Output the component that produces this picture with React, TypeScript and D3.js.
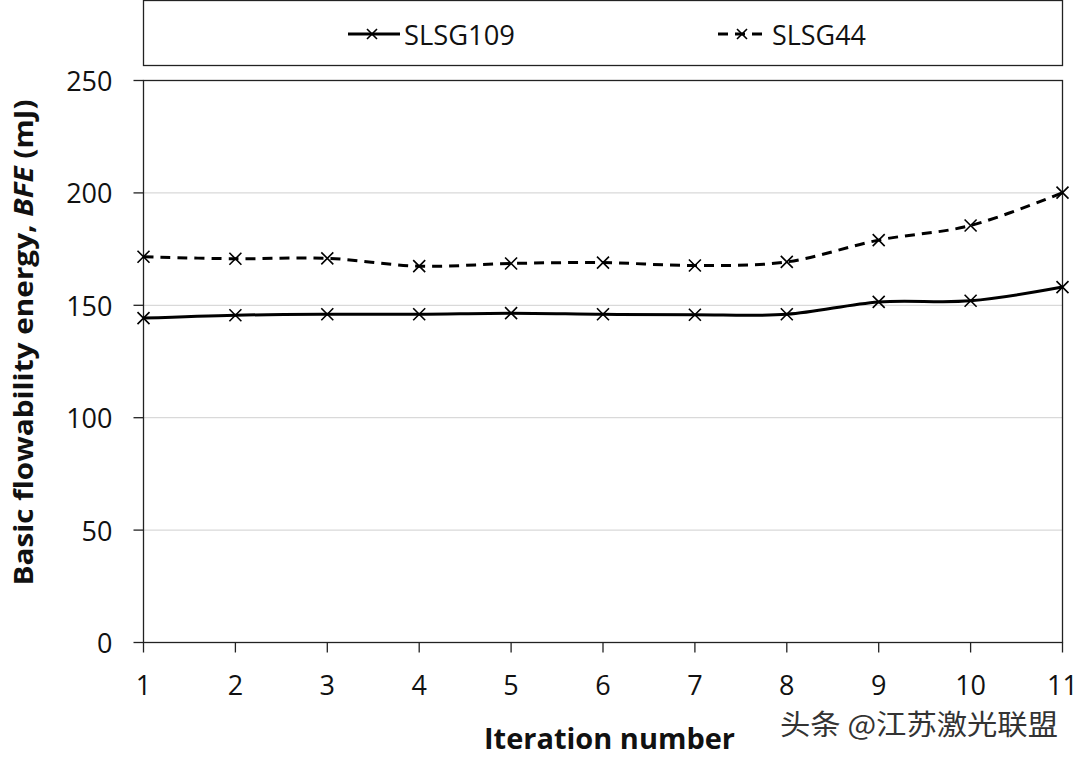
import React from "react";
import * as d3 from "d3";

const iterations = [1, 2, 3, 4, 5, 6, 7, 8, 9, 10, 11];
const slsg109 = [144.3, 145.6, 146.0, 146.0, 146.5, 146.0, 145.8, 146.0, 151.5, 152.0, 158.1];
const slsg44 = [171.6, 170.7, 170.9, 167.4, 168.6, 169.0, 167.7, 169.3, 179.0, 185.5, 200.1];
const yTicks = [0, 50, 100, 150, 200, 250];
const seriesNames = ["SLSG109", "SLSG44"];

const W = 1080;
const H = 759;
const plot = { left: 143.5, right: 1062.5, top: 80.5, bottom: 642.5 };
const FONT = "'Open Sans', 'Noto Sans', sans-serif";

function XMark({ x, y, s = 6 }: { x: number; y: number; s?: number }) {
  return (
    <path
      d={`M${x - s},${y - s}L${x + s},${y + s}M${x - s},${y + s}L${x + s},${y - s}`}
      stroke="#000"
      strokeWidth={1.6}
      fill="none"
    />
  );
}

export default function App() {
  const x = d3.scaleLinear().domain([1, 11]).range([plot.left, plot.right]);
  const y = d3.scaleLinear().domain([0, 250]).range([plot.bottom, plot.top]);
  const line = d3
    .line<number>()
    .x((_, i) => x(iterations[i]))
    .y((d) => y(d))
    .curve(d3.curveCardinal.tension(0));

  const series = [
    { name: seriesNames[0], values: slsg109, dash: undefined as string | undefined },
    { name: seriesNames[1], values: slsg44, dash: "10,7" },
  ];

  return (
    <svg
      width={W}
      height={H}
      style={{ position: "absolute", left: 0, top: 0, background: "#fff" }}
      fontFamily={FONT}
    >
      <rect x={0} y={0} width={W} height={H} fill="#fff" />
      {/* legend box */}
      <rect x={143.5} y={0.5} width={919} height={65} fill="none" stroke="#222" strokeWidth={1.3} />
      <g>
        <line x1={348} x2={400} y1={34} y2={34} stroke="#000" strokeWidth={3} />
        <XMark x={372} y={34} s={5} />
        <text x={404} y={34} dominantBaseline="central" fontSize={27} fill="#111" textLength={111} lengthAdjust="spacingAndGlyphs">
          {seriesNames[0]}
        </text>
        <line x1={718} x2={768} y1={34} y2={34} stroke="#000" strokeWidth={3} strokeDasharray="10,7" />
        <XMark x={742} y={34} s={5} />
        <text x={772} y={34} dominantBaseline="central" fontSize={27} fill="#111" textLength={94} lengthAdjust="spacingAndGlyphs">
          {seriesNames[1]}
        </text>
      </g>

      {/* gridlines */}
      {yTicks
        .filter((t) => t > 0 && t < 250)
        .map((t) => (
          <line key={t} x1={plot.left} x2={plot.right} y1={y(t)} y2={y(t)} stroke="#d9d9d9" strokeWidth={1.3} />
        ))}

      {/* plot frame */}
      <rect
        x={plot.left}
        y={plot.top}
        width={plot.right - plot.left}
        height={plot.bottom - plot.top}
        fill="none"
        stroke="#222"
        strokeWidth={1.3}
      />

      {/* y ticks */}
      {yTicks.map((t) => (
        <g key={t}>
          <line x1={plot.left - 10} x2={plot.left} y1={y(t)} y2={y(t)} stroke="#222" strokeWidth={1.3} />
          <text x={plot.left - 31} y={y(t)} textAnchor="end" dominantBaseline="central" fontSize={27} fill="#111">
            {t}
          </text>
        </g>
      ))}

      {/* x ticks */}
      {iterations.map((t) => (
        <g key={t}>
          <line x1={x(t)} x2={x(t)} y1={plot.bottom} y2={plot.bottom + 10} stroke="#222" strokeWidth={1.3} />
          <text x={x(t)} y={684} textAnchor="middle" dominantBaseline="central" fontSize={27} fill="#111">
            {t}
          </text>
        </g>
      ))}

      {/* series */}
      {series.map((s) => (
        <g key={s.name}>
          <path d={line(s.values) || ""} fill="none" stroke="#000" strokeWidth={3} strokeDasharray={s.dash} />
          {s.values.map((v, i) => (
            <XMark key={i} x={x(iterations[i])} y={y(v)} />
          ))}
        </g>
      ))}

      {/* axis titles */}
      <text
        transform={`translate(22, ${(100 + 585) / 2}) rotate(-90)`}
        textAnchor="middle"
        dominantBaseline="central"
        fontSize={27}
        fontWeight="bold"
        fill="#111"
        textLength={486}
        lengthAdjust="spacingAndGlyphs"
      >
        Basic flowability energy, <tspan fontStyle="italic">BFE</tspan> (mJ)
      </text>
      <text
        x={(484 + 735) / 2}
        y={737}
        textAnchor="middle"
        dominantBaseline="central"
        fontSize={29}
        fontWeight="bold"
        fill="#111"
        textLength={251}
        lengthAdjust="spacingAndGlyphs"
      >
        Iteration number
      </text>

      {/* watermark */}
      <text
        x={780}
        y={723}
        dominantBaseline="central"
        fontSize={28}
        fill="#333"
        fontFamily="'Noto Sans CJK SC', sans-serif"
        textLength={278}
        lengthAdjust="spacingAndGlyphs"
      >
        头条 @江苏激光联盟
      </text>
    </svg>
  );
}
